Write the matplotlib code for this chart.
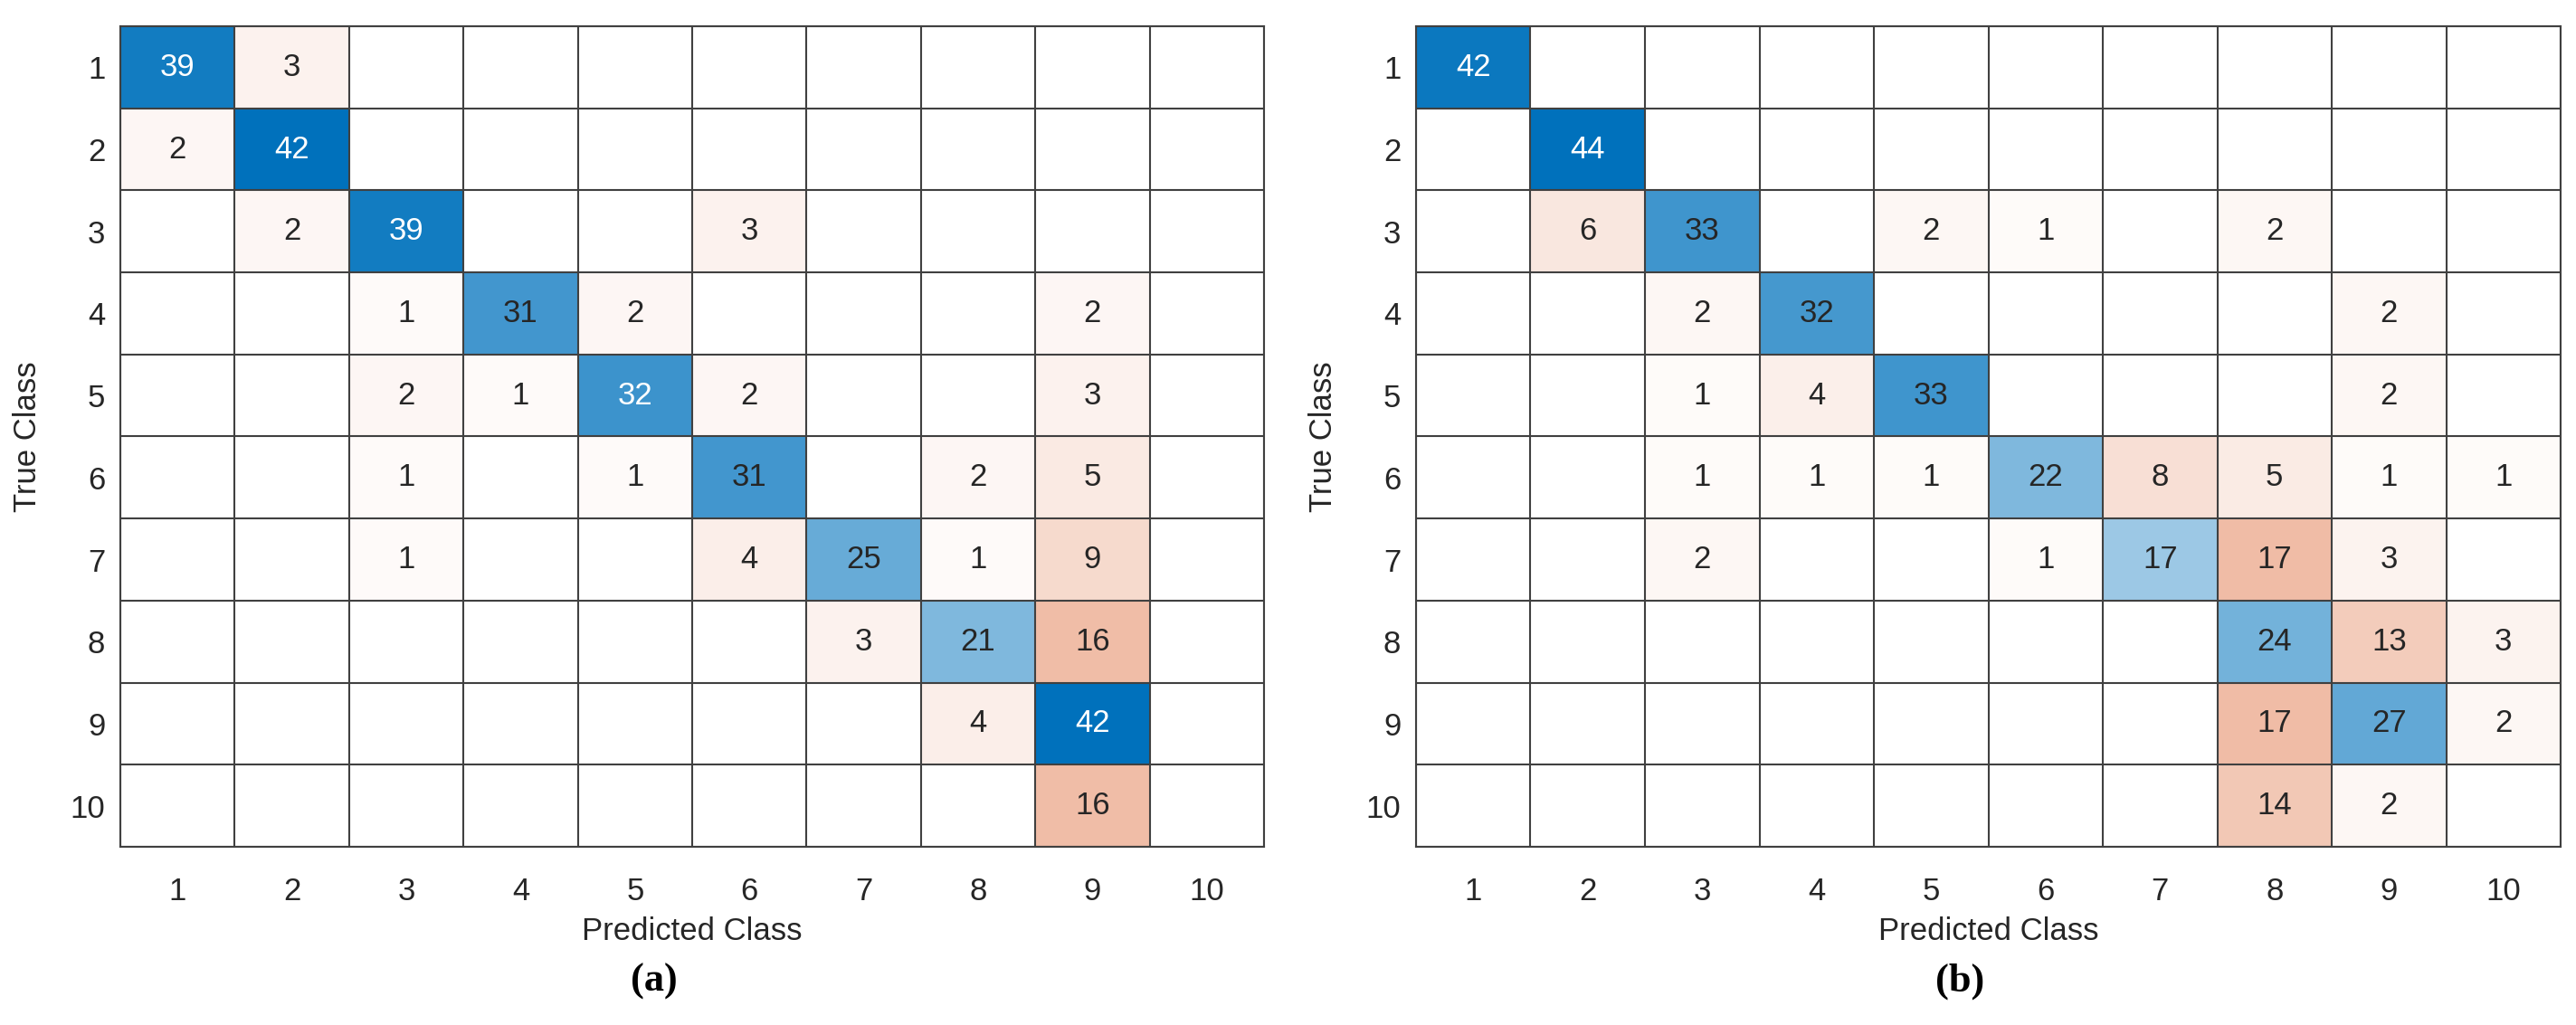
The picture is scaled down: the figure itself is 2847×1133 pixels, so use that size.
import numpy as np
import matplotlib
matplotlib.use("Agg")
import matplotlib.pyplot as plt
from matplotlib import font_manager

classes = [1, 2, 3, 4, 5, 6, 7, 8, 9, 10]
tick_labels = [str(c) for c in classes]

cm_a = np.array([
    [39, 3, 0, 0, 0, 0, 0, 0, 0, 0],
    [2, 42, 0, 0, 0, 0, 0, 0, 0, 0],
    [0, 2, 39, 0, 0, 3, 0, 0, 0, 0],
    [0, 0, 1, 31, 2, 0, 0, 0, 2, 0],
    [0, 0, 2, 1, 32, 2, 0, 0, 3, 0],
    [0, 0, 1, 0, 1, 31, 0, 2, 5, 0],
    [0, 0, 1, 0, 0, 4, 25, 1, 9, 0],
    [0, 0, 0, 0, 0, 0, 3, 21, 16, 0],
    [0, 0, 0, 0, 0, 0, 0, 4, 42, 0],
    [0, 0, 0, 0, 0, 0, 0, 0, 16, 0],
])

cm_b = np.array([
    [42, 0, 0, 0, 0, 0, 0, 0, 0, 0],
    [0, 44, 0, 0, 0, 0, 0, 0, 0, 0],
    [0, 6, 33, 0, 2, 1, 0, 2, 0, 0],
    [0, 0, 2, 32, 0, 0, 0, 0, 2, 0],
    [0, 0, 1, 4, 33, 0, 0, 0, 2, 0],
    [0, 0, 1, 1, 1, 22, 8, 5, 1, 1],
    [0, 0, 2, 0, 0, 1, 17, 17, 3, 0],
    [0, 0, 0, 0, 0, 0, 0, 24, 13, 3],
    [0, 0, 0, 0, 0, 0, 0, 17, 27, 2],
    [0, 0, 0, 0, 0, 0, 0, 14, 2, 0],
])

panel_labels = ["(a)", "(b)"]
xlabel = "Predicted Class"
ylabel = "True Class"

BLUE = np.array([0.0, 0.4470, 0.7410])
ORANGE = np.array([0.8500, 0.3250, 0.0980])
WHITE = np.array([1.0, 1.0, 1.0])
TXT = (0.15, 0.15, 0.15)
GRID = "#404040"

avail = {f.name for f in font_manager.fontManager.ttflist}
narrow = "Liberation Sans Narrow" if "Liberation Sans Narrow" in avail else "Liberation Sans"


def cell_colors(cm):
    n = cm.shape[0]
    mx = cm.max()
    rgb = np.ones((n, n, 3))
    for i in range(n):
        for j in range(n):
            f = cm[i, j] / mx
            base = BLUE if i == j else ORANGE
            rgb[i, j] = WHITE - f * (WHITE - base)
    return rgb


fig = plt.figure(figsize=(28.47, 11.33), dpi=100)
positions = [[133 / 2847, 1 - 936 / 1133, 1264 / 2847, 907 / 1133],
             [1565 / 2847, 1 - 936 / 1133, 1265 / 2847, 907 / 1133]]
fonts = ["Liberation Sans", narrow]
label_x = [723, 2166]
FS = 25

for k, cm in enumerate([cm_a, cm_b]):
    ax = fig.add_axes(positions[k])
    fam = fonts[k]
    n = cm.shape[0]
    rgb = cell_colors(cm)
    ax.imshow(rgb, extent=(0.5, n + 0.5, n + 0.5, 0.5), aspect="auto", interpolation="nearest")
    ax.set_xlim(0.5, n + 0.5)
    ax.set_ylim(n + 0.5, 0.5)
    mx = cm.max()
    for i in range(n):
        for j in range(n):
            v = cm[i, j]
            if v == 0:
                continue
            col = "white" if (i == j and v / mx > 0.755) else TXT
            ax.text(classes[j], classes[i], str(v), ha="center", va="center",
                    fontsize=FS, color=col, family=fam)
    ax.set_xticks(classes)
    ax.set_yticks(classes)
    ax.set_xticklabels(tick_labels, fontsize=FS, color=TXT, family=fam)
    ax.set_yticklabels(tick_labels, fontsize=FS, color=TXT, family=fam)
    ax.set_xticks(np.arange(0.5, n + 1.0, 1.0), minor=True)
    ax.set_yticks(np.arange(0.5, n + 1.0, 1.0), minor=True)
    ax.grid(which="minor", color=GRID, linewidth=1.5)
    ax.grid(which="major", visible=False)
    ax.tick_params(which="both", length=0)
    ax.tick_params(axis="x", pad=24)
    ax.tick_params(axis="y", pad=12)
    for s in ax.spines.values():
        s.set_color(GRID)
        s.set_linewidth(1.5)
    ax.set_xlabel(xlabel, fontsize=FS, color=TXT, family=fam, labelpad=8)
    ax.set_ylabel(ylabel, fontsize=FS, color=TXT, family=fam, labelpad=22)
    fig.text(label_x[k] / 2847, 1 - 1085 / 1133, panel_labels[k], ha="center", va="center",
             fontsize=32, fontweight="bold", family="Liberation Serif", color="black")

fig.savefig("out.png", dpi=100)
